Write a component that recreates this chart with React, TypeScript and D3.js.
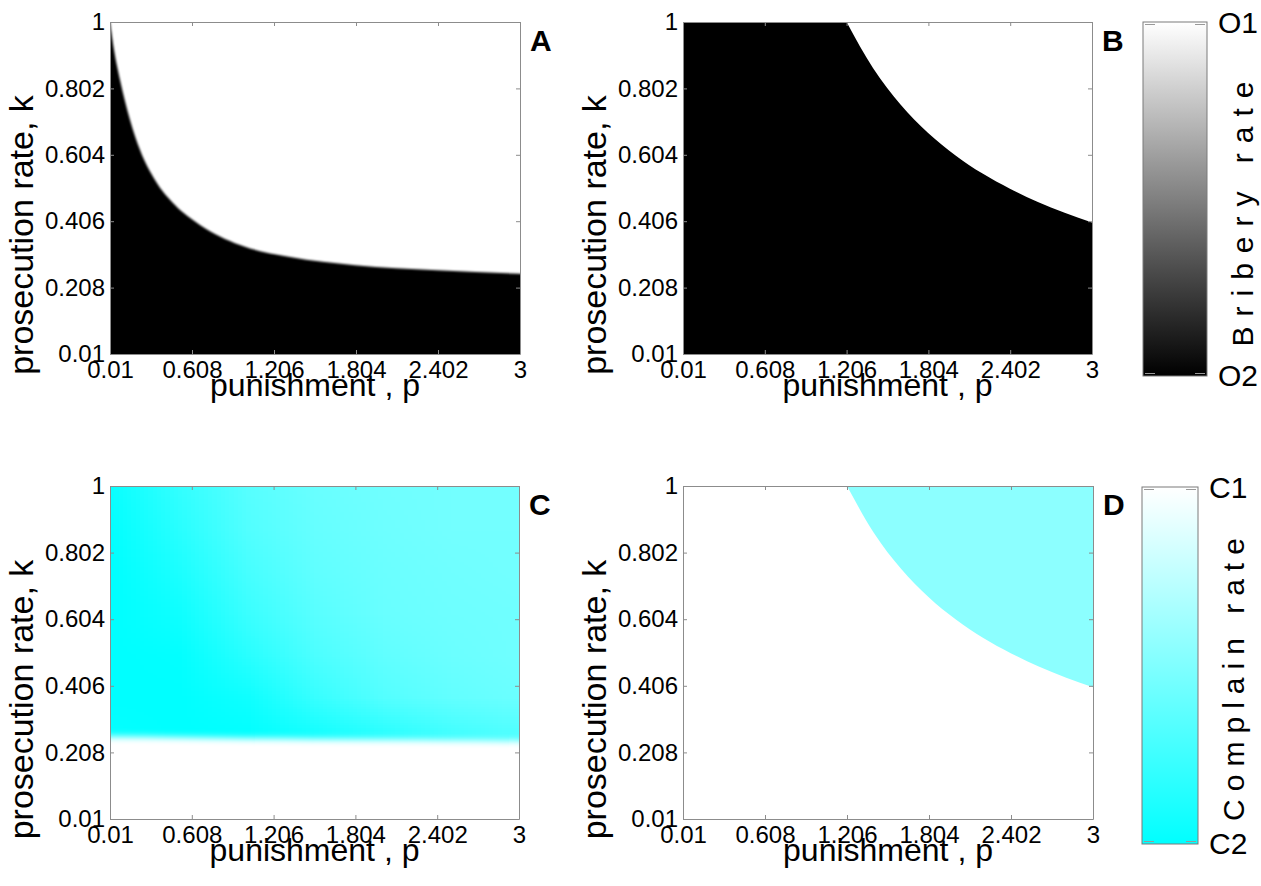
import { useEffect, useMemo, useRef } from 'react';
import * as d3 from 'd3';

const FONT = '"Liberation Sans", Arial, Helvetica, sans-serif';

// Tick values shared by all four panels
const pTicks = [0.01, 0.608, 1.206, 1.804, 2.402, 3];
const kTicks = [0.01, 0.208, 0.406, 0.604, 0.802, 1];

// Panel A: bribery boundary (black below, white above)
const boundAP = [0.01, 0.04, 0.083, 0.156, 0.229, 0.338, 0.484, 0.666, 0.958, 1.323, 1.797, 2.395, 3];
const boundAK = [1, 0.915, 0.827, 0.708, 0.618, 0.529, 0.454, 0.395, 0.335, 0.299, 0.275, 0.26, 0.249];

// Panels B and D: sharp boundary
const boundBP = [1.206, 1.4, 1.6, 1.8, 2.0, 2.2, 2.4, 2.6, 2.8, 3.0];
const boundBK = [1.0, 0.862, 0.754, 0.67, 0.603, 0.548, 0.503, 0.464, 0.431, 0.402];

// Panel C: white below this line
const boundCP = [0.01, 0.5, 1.0, 1.5, 2.0, 2.5, 3.0];
const boundCK = [0.255, 0.253, 0.25, 0.248, 0.246, 0.244, 0.242];

// Panel C: complain rate above the line (0 = C1 white, 1 = C2 cyan)
const gridCP = [0.01, 0.508, 1.007, 1.505, 2.003, 2.502, 3.0];
const gridCK = [1.0, 0.875, 0.75, 0.625, 0.5, 0.375, 0.25];
const gridCRate = [
  [0.96, 0.8, 0.66, 0.59, 0.56, 0.55, 0.55],
  [0.99, 0.84, 0.68, 0.6, 0.57, 0.55, 0.55],
  [1.0, 0.89, 0.72, 0.62, 0.58, 0.56, 0.55],
  [1.0, 0.94, 0.77, 0.65, 0.59, 0.57, 0.56],
  [1.0, 0.99, 0.84, 0.7, 0.62, 0.58, 0.56],
  [1.0, 1.0, 0.94, 0.78, 0.67, 0.61, 0.58],
  [0.98, 1.0, 1.0, 0.94, 0.86, 0.76, 0.7],
];

// Panel D: complain rate inside the region
const rateD = 0.45;

const briberyTicks = ['O1', 'O2'];
const complainTicks = ['C1', 'C2'];

const briberyColor = d3.interpolateRgb('#ffffff', '#000000');
const complainColor = d3.interpolateRgb('#ffffff', '#00ffff');

function toPoints(ps, ks) {
  return ps.map((p, i) => ({ p, k: ks[i] }));
}

function Frame({ x, y }) {
  const ref = useRef(null);
  useEffect(() => {
    const g = d3.select(ref.current);
    g.selectAll('*').remove();
    const [l, r] = x.range();
    const [b, t] = y.range();
    const fmt = d => String(d);
    const none = () => '';

    g.append('g').attr('transform', `translate(0,${b})`)
      .call(d3.axisBottom(x).tickValues(pTicks).tickSize(-4).tickSizeOuter(0).tickPadding(7).tickFormat(fmt));
    g.append('g').attr('transform', `translate(0,${t})`)
      .call(d3.axisTop(x).tickValues(pTicks).tickSize(-4).tickSizeOuter(0).tickFormat(none));
    g.append('g').attr('transform', `translate(${l},0)`)
      .call(d3.axisLeft(y).tickValues(kTicks).tickSize(-4).tickSizeOuter(0).tickPadding(5).tickFormat(fmt));
    g.append('g').attr('transform', `translate(${r},0)`)
      .call(d3.axisRight(y).tickValues(kTicks).tickSize(-4).tickSizeOuter(0).tickFormat(none));

    g.selectAll('g').attr('font-size', 24).attr('font-family', FONT);
    g.selectAll('.domain, .tick line').attr('stroke', '#8c8c8c');
    g.selectAll('.tick text').attr('fill', '#000');
  }, [x, y]);
  return <g ref={ref} />;
}

function Labels({ x, y, letter }) {
  const [l, r] = x.range();
  const [b, t] = y.range();
  return (
    <g fontFamily={FONT} fill="#000">
      <text x={(l + r) / 2} y={b + 42} fontSize={32} textAnchor="middle">punishment , p</text>
      <text transform={`translate(${l - 77},${(t + b) / 2 + 47}) rotate(-90)`} fontSize={34} textAnchor="middle">
        prosecution rate, k
      </text>
      <text x={r + 10} y={t + 29} fontSize={30} fontWeight="bold">{letter}</text>
    </g>
  );
}

function useScales(l, r, t, b) {
  return useMemo(() => ({
    x: d3.scaleLinear().domain([0.01, 3]).range([l, r]),
    y: d3.scaleLinear().domain([0.01, 1]).range([b, t]),
  }), [l, r, t, b]);
}

function Colorbar({ x0, x1, y0, y1, id, color, ticks, title, spacing }) {
  return (
    <g fontFamily={FONT}>
      <defs>
        <linearGradient id={id} x1="0" y1="0" x2="0" y2="1">
          {d3.range(0, 1.0001, 0.1).map(v => (
            <stop key={v} offset={v} stopColor={color(v)} />
          ))}
        </linearGradient>
      </defs>
      <rect x={x0} y={y0} width={x1 - x0} height={y1 - y0} fill={`url(#${id})`} stroke="#7a7a7a" strokeWidth={1} />
      {[y0 + 2.5, y1 - 2.5].map(yy => (
        <g key={yy} stroke="#999" strokeWidth={1}>
          <line x1={x0 + 2} x2={x0 + 12} y1={yy} y2={yy} />
          <line x1={x1 - 12} x2={x1 - 2} y1={yy} y2={yy} />
        </g>
      ))}
      <text x={x1 + 11} y={y0 + 11} fontSize={30} fill="#000">{ticks[0]}</text>
      <text x={x1 + 11} y={y1 + 10} fontSize={30} fill="#000">{ticks[1]}</text>
      <text
        transform={`translate(${x1 + 46},${(y0 + y1) / 2 + 10}) rotate(-90)`}
        fontSize={30}
        letterSpacing={spacing}
        textAnchor="middle"
        fill="#000"
      >
        {title}
      </text>
    </g>
  );
}

export default function App() {
  const A = useScales(110, 520, 22, 354);
  const B = useScales(683, 1092, 22, 354);
  const C = useScales(110, 519, 486, 819);
  const D = useScales(683, 1093, 486, 819);

  const ptsA = toPoints(boundAP, boundAK);
  const ptsB = toPoints(boundBP, boundBK);
  const ptsC = toPoints(boundCP, boundCK);

  const areaA = d3.area().x(d => A.x(d.p)).y0(A.y(0.01) + 20).y1(d => A.y(d.k)).curve(d3.curveMonotoneX);
  const areaB = d3.area().x(d => B.x(d.p)).y0(B.y(1)).y1(d => B.y(d.k)).curve(d3.curveMonotoneX);
  const areaC = d3.area().x(d => C.x(d.p)).y0(C.y(0.01) + 20).y1(d => C.y(d.k)).curve(d3.curveMonotoneX);
  const areaD = d3.area().x(d => D.x(d.p)).y0(D.y(1)).y1(d => D.y(d.k)).curve(d3.curveMonotoneX);

  // Panel C field as a small bitmap, smoothed by the browser when stretched
  const imgC = useMemo(() => {
    const canvas = document.createElement('canvas');
    canvas.width = gridCP.length;
    canvas.height = gridCK.length;
    const ctx = canvas.getContext('2d');
    gridCRate.forEach((row, i) => row.forEach((v, j) => {
      ctx.fillStyle = complainColor(v);
      ctx.fillRect(j, i, 1, 1);
    }));
    return canvas.toDataURL();
  }, []);
  const stepP = (gridCP[gridCP.length - 1] - gridCP[0]) / (gridCP.length - 1);
  const stepK = (gridCK[0] - gridCK[gridCK.length - 1]) / (gridCK.length - 1);
  const imgX0 = C.x(gridCP[0] - stepP / 2);
  const imgX1 = C.x(gridCP[gridCP.length - 1] + stepP / 2);
  const imgY0 = C.y(gridCK[0] + stepK / 2);
  const imgY1 = C.y(gridCK[gridCK.length - 1] - stepK / 2);

  const clip = (id, s) => (
    <clipPath id={id}>
      <rect x={s.x.range()[0]} y={s.y.range()[1]} width={s.x.range()[1] - s.x.range()[0]} height={s.y.range()[0] - s.y.range()[1]} />
    </clipPath>
  );
  const plotRect = (s, fill) => (
    <rect x={s.x.range()[0]} y={s.y.range()[1]} width={s.x.range()[1] - s.x.range()[0]} height={s.y.range()[0] - s.y.range()[1]} fill={fill} />
  );

  const lastA = boundAK[boundAK.length - 1];

  return (
    <svg width={1261} height={886} style={{ position: 'absolute', left: 0, top: 0, background: '#fff' }}>
      <defs>
        {clip('clipA', A)}
        {clip('clipB', B)}
        {clip('clipC', C)}
        {clip('clipD', D)}
        <filter id="softA" filterUnits="userSpaceOnUse" x={0} y={0} width={1261} height={886}>
          <feGaussianBlur stdDeviation="1.2" />
        </filter>
        <filter id="softC" filterUnits="userSpaceOnUse" x={0} y={0} width={1261} height={886}>
          <feGaussianBlur stdDeviation="0 3.5" />
        </filter>
      </defs>

      {/* A */}
      <g clipPath="url(#clipA)">
        {plotRect(A, briberyColor(0))}
        <g filter="url(#softA)" fill={briberyColor(1)}>
          <path d={areaA(ptsA)} />
          <rect x={A.x.range()[0] - 20} y={A.y(1) - 20} width={20} height={A.y(0.01) - A.y(1) + 40} />
          <rect x={A.x.range()[1]} y={A.y(lastA)} width={20} height={A.y(0.01) - A.y(lastA) + 20} />
        </g>
      </g>
      <Frame x={A.x} y={A.y} />
      <Labels x={A.x} y={A.y} letter="A" />

      {/* B */}
      <g clipPath="url(#clipB)">
        {plotRect(B, briberyColor(1))}
        <path d={areaB(ptsB)} fill={briberyColor(0)} />
      </g>
      <Frame x={B.x} y={B.y} />
      <Labels x={B.x} y={B.y} letter="B" />

      {/* C */}
      <g clipPath="url(#clipC)">
        {plotRect(C, '#fff')}
        <image href={imgC} x={imgX0} y={imgY0} width={imgX1 - imgX0} height={imgY1 - imgY0} preserveAspectRatio="none" />
        <path d={areaC(ptsC)} fill={complainColor(0)} filter="url(#softC)" />
      </g>
      <Frame x={C.x} y={C.y} />
      <Labels x={C.x} y={C.y} letter="C" />

      {/* D */}
      <g clipPath="url(#clipD)">
        {plotRect(D, complainColor(0))}
        <path d={areaD(ptsB)} fill={complainColor(rateD)} />
      </g>
      <Frame x={D.x} y={D.y} />
      <Labels x={D.x} y={D.y} letter="D" />

      <Colorbar x0={1143} x1={1207} y0={22} y1={376} id="gradB" color={briberyColor}
        ticks={briberyTicks} title="Bribery rate" spacing={10} />
      <Colorbar x0={1142} x1={1198} y0={487} y1={844} id="gradD" color={complainColor}
        ticks={complainTicks} title="Complain rate" spacing={8} />
    </svg>
  );
}
